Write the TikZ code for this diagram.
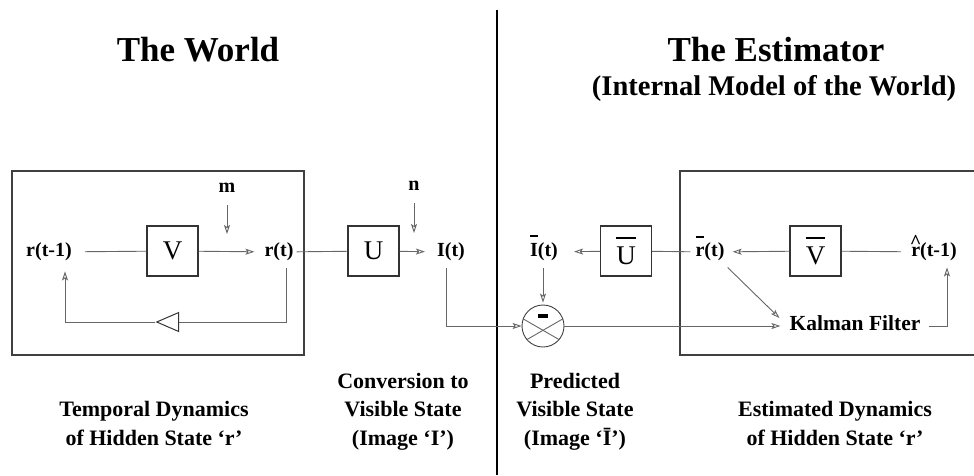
\documentclass[tikz,border=0pt]{standalone}
\usepackage{fontspec}
\setmainfont{Liberation Serif}
\usetikzlibrary{arrows.meta,shapes.geometric,calc}

% letter with a bar set at a fixed height above the baseline
\newcommand\hibar[2]{\setbox0\hbox{#2}\rlap{\rule[#1]{\wd0}{1.5pt}}\box0}
% letter with a raised circumflex over it
\newcommand\hihat[2]{\setbox0\hbox{#2}\rlap{\hbox to\wd0{\hss\raisebox{#1}{\^{}}\hss}}\box0}

\begin{document}
\begin{tikzpicture}[x=1pt,y=-1pt,
  title/.style={font=\bfseries\fontsize{35}{40}\selectfont, inner sep=0pt},
  subtitle/.style={font=\bfseries\fontsize{28.5}{32}\selectfont, inner sep=0pt},
  lbl/.style={font=\bfseries\fontsize{20}{24}\selectfont, inner sep=0pt,
    text height=14pt, text depth=4.5pt},
  caption/.style={font=\bfseries\fontsize{22}{28.5}\selectfont, align=center, inner sep=0pt},
  blk/.style={draw=black!80, line width=1.1pt, minimum width=51pt, minimum height=50pt,
    inner sep=0pt, font=\fontsize{27}{30}\selectfont},
  frame/.style={draw=black!75, line width=1.1pt},
  wire/.style={draw=black!60, line width=0.9pt},
  arr/.style={wire, -{Stealth[open, length=9pt, width=6pt, inset=2pt]}},
]
\useasboundingbox (0,0) rectangle (974,475);

% headings
\node[title, anchor=base] (tW) at (198,61) {The World};
\node[title, anchor=base] (tE) at (776,61) {The Estimator};
\node[subtitle, anchor=base] (tI) at (774,95) {(Internal Model of the World)};

% dividing line
\draw[line width=2.4pt] (497,10) -- (497,475);

% outer frames (the right one runs off the edge)
\draw[frame] (12,171) rectangle (304,355);
\draw[frame] (980,171) -- (680,171) -- (680,355) -- (980,355);

% ---- the world ----
\node[lbl] (rtm1) at (49,252) {r(t-1)};
\node[blk] (V) at (172.5,251) {V};
\node[lbl] (rt) at (279,252) {r(t)};
\node[lbl] (m) at (227,188) {m};
\coordinate (mend) at (227,234);
\node[draw=black!80, line width=1pt, isosceles triangle, shape border rotate=180,
  isosceles triangle stretches, minimum width=19pt, minimum height=22pt, inner sep=0pt]
  (gain) at (172.5,322) {};
\coordinate (fb1) at (286,322);
\coordinate (fb2) at (65,322);

\node[blk] (U) at (373.5,251) {U};
\node[lbl] (n) at (414,186) {n};
\coordinate (nend) at (414,233);
\node[lbl] (It) at (451,252) {I(t)};

\draw[wire, shorten <=13pt] (rtm1) -- (V);
\draw[arr, shorten >=10pt] (V) -- (rt);
\draw[arr, shorten <=8pt] (m) -- (mend);
\draw[wire, shorten <=3pt] (rt) -- (U);
\draw[wire, shorten <=7pt] (rt.south -| fb1) -- (fb1) -- (gain);
\draw[arr, shorten >=10pt] (gain) -- (fb2) -- (rtm1.south -| fb2);
\draw[arr, shorten <=8pt] (n) -- (nend);
\draw[arr, shorten >=12pt] (U) -- (It);

% ---- the estimator ----
\node[draw=black!75, circle, line width=0.9pt, minimum size=42pt, inner sep=0pt]
  (cmp) at (543,326) {};
\draw[wire] (cmp.160) -- (cmp.-40);
\draw[wire] (cmp.20) -- (cmp.220);
\fill ($(cmp.center)+(-5,-12)$) rectangle ++(10,3.5);
\coordinate (c1) at (446,326);

\node[lbl] (Ib) at (544,252) {\hibar{20pt}{I}(t)};
\node[blk] (Ub) at (626,251) {\hibar{26pt}{U}};
\node[lbl] (rb) at (710,252) {\hibar{19pt}{r}(t)};
\node[blk] (Vb) at (815.5,251) {\hibar{26pt}{V}};
\node[lbl] (rh) at (934,252) {\hihat{8pt}{r}(t-1)};
\node[lbl, font=\bfseries\fontsize{21.5}{24}\selectfont] (kf) at (855,326) {Kalman Filter};
\coordinate (k1) at (947,326);

\draw[arr, shorten <=7pt] (It.south -| c1) -- (c1) -- (cmp);
\draw[arr, shorten <=7pt, shorten >=2pt] (Ib.south -| cmp) -- (cmp);
\draw[arr, shorten >=16pt] (Ub) -- (Ib);
\draw[wire, shorten >=5pt] (Ub) -- (rb);
\draw[arr, shorten >=8pt] (Vb) -- (rb);
\draw[wire, shorten <=10pt] (rh) -- (Vb);
\draw[arr] ($(rb.south east)+(3,6)$) -- ($(kf.west)+(-10,-8)$);
\draw[arr, shorten >=9pt] (cmp) -- (kf);
\draw[arr, shorten <=8pt, shorten >=6pt] (kf) -- (k1) -- (rh.south -| k1);

% ---- captions (placed by the baseline of their last line) ----
\node[caption, anchor=base] (cap1) at (154,445) {Temporal Dynamics\\of Hidden State ‘r’};
\node[caption, anchor=base] (cap2) at (403,445) {Conversion to\\Visible State\\(Image ‘I’)};
\node[caption, anchor=base] (cap3) at (575,445) {Predicted\\Visible State\\(Image ‘\=I’)};
\node[caption, anchor=base] (cap4) at (835,445) {Estimated Dynamics\\of Hidden State ‘r’};
\end{tikzpicture}
\end{document}
